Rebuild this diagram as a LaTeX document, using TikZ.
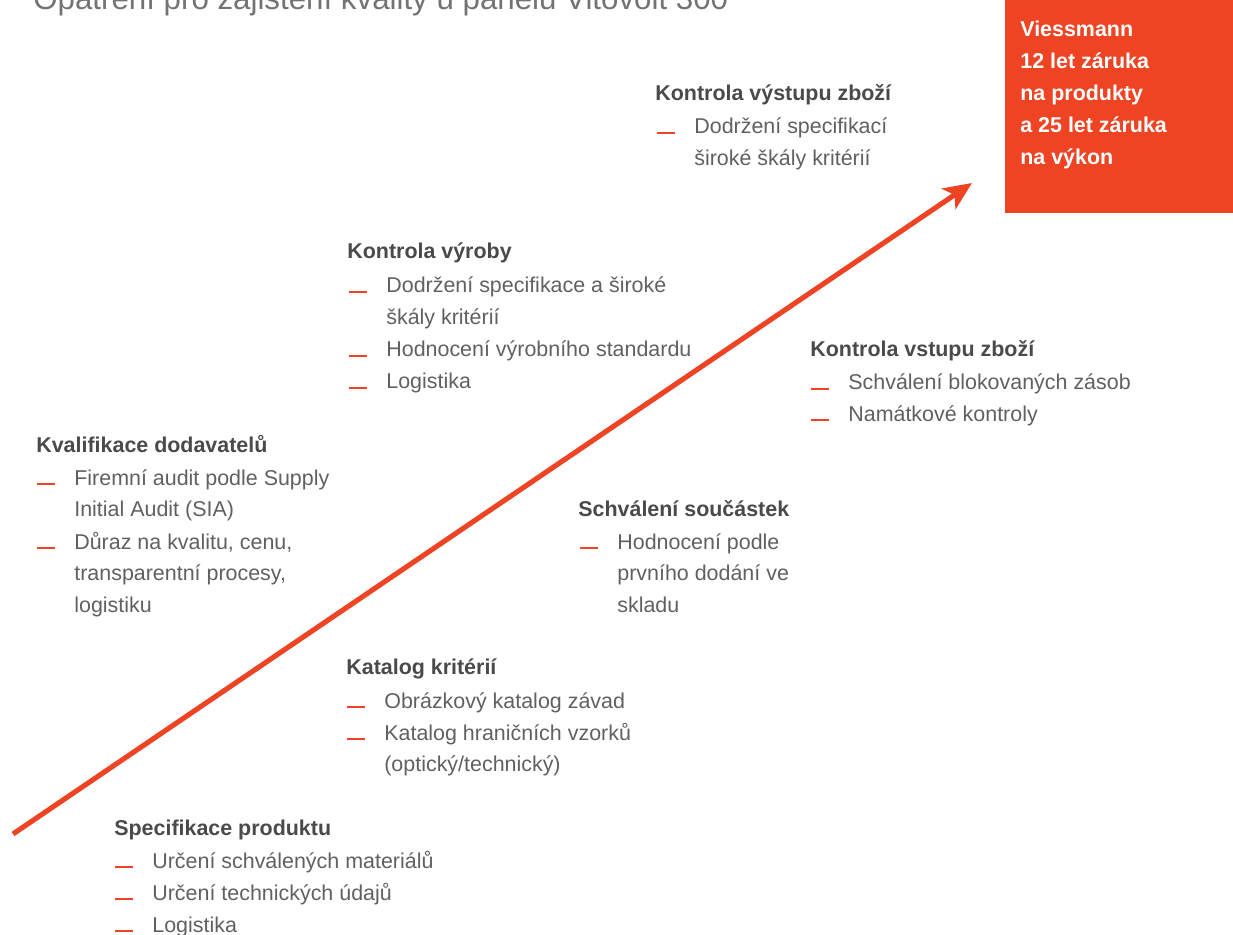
\documentclass[tikz,border=0pt]{standalone}
\usepackage{fontspec}
\setmainfont{Liberation Sans}
\usetikzlibrary{arrows.meta}
\definecolor{vired}{HTML}{EE4423}
\definecolor{vigray}{HTML}{606060}
\definecolor{vidark}{HTML}{4A4A4A}
\newcommand{\itemlines}[1]{\begin{tabular}[t]{@{}l@{}}#1\end{tabular}}

\begin{document}
\begin{tikzpicture}[x=0.02cm,y=-0.02cm]
    \tikzstyle{head}=[anchor=base west,inner sep=0pt,font=\fontsize{12.2}{18.2}\selectfont\bfseries,text=vidark]
    \tikzstyle{item}=[anchor=base west,inner sep=0pt,font=\fontsize{12.2}{18.2}\selectfont,text=vigray]
    \tikzstyle{bar}=[draw=vired,line width=1.2pt]
    \clip (0,0) rectangle (1233,935);

    % title, cut at the top edge
    \node[anchor=base west,inner sep=0pt,font=\fontsize{17.8}{20}\selectfont,text=black!55] (title) at (33,10)
        {Opatření pro zajištění kvality u panelů Vitovolt 300};

    % warranty box
    \node[fill=vired,anchor=north west,inner sep=0pt,minimum width=4.56cm,minimum height=4.26cm] (box) at (1005,0) {};
    \node[item,text=white,font=\fontsize{12.2}{18.2}\selectfont\bfseries] (boxtext) at (1020,37)
        {\itemlines{Viessmann\\12 let záruka\\na produkty\\a 25 let záruka\\na výkon}};

    % headings
    \foreach \name/\x/\y/\txt in {out/655/101/Kontrola výstupu zboží, vyr/347/259/Kontrola výroby,
                                  vst/810/357/Kontrola vstupu zboží, kval/36/452/Kvalifikace dodavatelů,
                                  sch/578/516/Schválení součástek, kat/346/674/Katalog kritérií,
                                  spec/114/835/Specifikace produktu}
        \node[head] (H-\name) at (\x,\y) {\txt};

    % bullet items
    \foreach \name/\x/\y/\txt in {out1/694/134/{Dodržení specifikací\\široké škály kritérií},
                                  vyr1/386/293/{Dodržení specifikace a široké\\škály kritérií},
                                  vyr2/386/357/Hodnocení výrobního standardu,
                                  vyr3/386/389/Logistika,
                                  vst1/848/390/Schválení blokovaných zásob,
                                  vst2/848/421/Namátkové kontroly,
                                  kval1/74/485/{Firemní audit podle Supply\\Initial Audit (SIA)},
                                  kval2/74/549/{Důraz na kvalitu, cenu,\\transparentní procesy,\\logistiku},
                                  sch1/617/549/{Hodnocení podle\\prvního dodání ve\\skladu},
                                  kat1/384/708/Obrázkový katalog závad,
                                  kat2/384/740/{Katalog hraničních vzorků\\(optický/technický)},
                                  spec1/152/868/Určení schválených materiálů,
                                  spec2/152/900/Určení technických údajů,
                                  spec3/152/932/Logistika}
    {
        \node[item] (I-\name) at (\x,\y) {\itemlines{\txt}};
        \draw[bar] ([shift={(-37,-1)}]I-\name.base west) -- ++(18,0);
    }

    % rising arrow
    \coordinate (start) at (13,834);
    \coordinate (tip) at (972,183);
    \draw[vired,line width=2.9pt,-{Stealth[length=16pt,width=14pt,inset=4pt]}] (start) -- (tip);
\end{tikzpicture}
\end{document}
